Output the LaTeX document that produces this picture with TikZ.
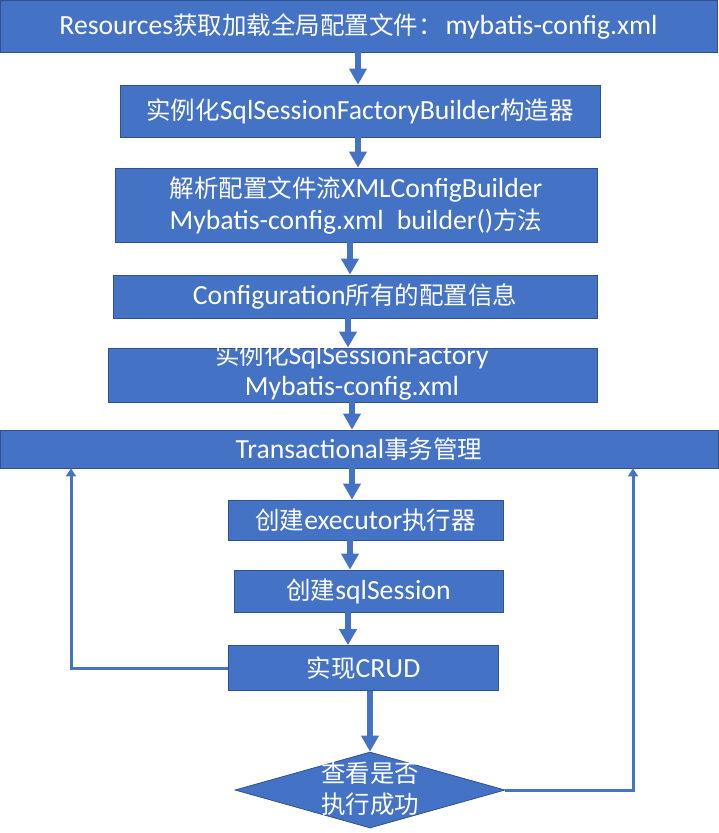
\documentclass[tikz,border=0pt]{standalone}
\usepackage{fontspec}
\setmainfont{Carlito}[Scale=1.13]
\newfontfamily\cjk{Noto Sans CJK SC}
\newcommand{\zh}[1]{{\cjk #1}}
\usetikzlibrary{shapes.geometric,arrows.meta}
\definecolor{boxblue}{HTML}{4472C4}
\definecolor{boxborder}{HTML}{2F528F}
\begin{document}
\begin{tikzpicture}[x=1pt,y=-1pt,
  box/.style={draw=boxborder, fill=boxblue, text=white, line width=0.8pt, inner sep=0pt, align=center, font=\fontsize{24.5}{32}\selectfont},
  flow/.style={draw=boxblue, line width=6pt, -{Triangle[width=17pt,length=16pt]}},
  fb/.style={draw=boxblue, line width=3pt, -{Triangle[width=10pt,length=8pt]}},
  lbl/.style={text=white, align=center, inner sep=0pt, font=\fontsize{24.5}{31}\selectfont}]
\useasboundingbox (0,0) rectangle (718,833);
\node[box, minimum width=717pt, minimum height=52pt] (b1) at (358.5,26) {Resources\zh{获取加载全局配置文件：}\hspace{0.1em}mybatis-config.xml};
\node[box, minimum width=480pt, minimum height=52pt] (b2) at (360,111) {\zh{实例化}SqlSessionFactoryBuilder\zh{构造器}};
\node[box, minimum width=482pt, minimum height=74pt] (b3) at (356,205) {\zh{解析配置文件流}XMLConfigBuilder\\Mybatis-config.xml\hspace{0.25em} builder()\zh{方法}};
\node[box, minimum width=484pt, minimum height=43pt] (b4) at (355,296.5) {Configuration\zh{所有的配置信息}};
\node[box, minimum width=489pt, minimum height=54pt] (b5) at (352.5,375) {};
\node[lbl] (t5) at (352,372) {\zh{实例化}SqlSessionFactory\\Mybatis-config.xml};
\node[box, minimum width=718pt, minimum height=38pt] (b6) at (359,449) {Transactional\zh{事务管理}};
\node[box, minimum width=275pt, minimum height=40pt] (b7) at (365.5,520) {\zh{创建}executor\zh{执行器}};
\node[box, minimum width=269pt, minimum height=42pt] (b8) at (368.5,591) {\zh{创建}sqlSession};
\node[box, minimum width=270pt, minimum height=45pt] (b9) at (363.5,668) {\zh{实现}CRUD};
\node[draw=boxborder, fill=boxblue, line width=0.8pt, shape=diamond, inner sep=0pt, minimum width=270pt, minimum height=76pt] (d) at (370,790) {};
\node[lbl] (td) at (370,789) {\zh{查看是否}\\\zh{执行成功}};
\coordinate (ax1) at (358,0);
\coordinate (ax3) at (350,0);
\coordinate (ax4) at (348,0);
\coordinate (ax5) at (352,0);
\coordinate (ax9) at (370,0);
\coordinate (fl) at (71,0);
\coordinate (fr) at (633,0);
\draw[flow] (b1.south -| ax1) -- (b2.north -| ax1);
\draw[flow] (b2.south -| ax1) -- (b3.north -| ax1);
\draw[flow] (b3.south -| ax3) -- (b4.north -| ax3);
\draw[flow] (b4.south -| ax4) -- (b5.north -| ax4);
\draw[flow] ([yshift=4pt]b5.south -| ax5) -- (b6.north -| ax5);
\draw[flow] (b6.south -| ax5) -- (b7.north -| ax5);
\draw[flow] (b7.south -| ax3) -- (b8.north -| ax3);
\draw[flow] (b8.south -| ax4) -- (b9.north -| ax4);
\draw[flow] (b9.south -| ax9) -- (d.north);
\draw[fb] (b9.west) -| (b6.south -| fl);
\draw[fb] (d.east) -| (b6.south -| fr);
\end{tikzpicture}
\end{document}
